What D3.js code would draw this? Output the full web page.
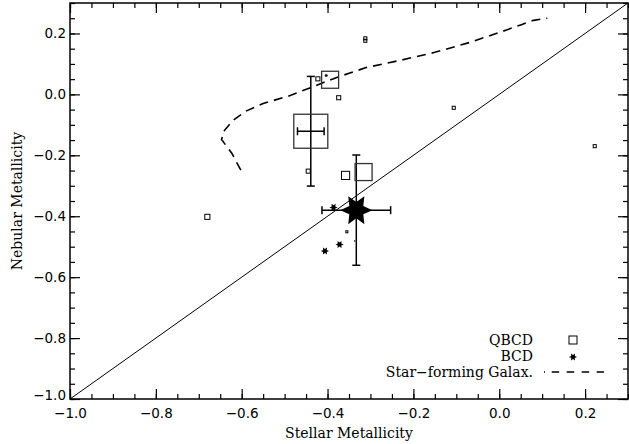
<!DOCTYPE html>
<html>
<head>
<meta charset="utf-8">
<script src="https://cdn.jsdelivr.net/npm/d3@7"></script>
<style>
  body { margin: 0; background: #fff; }
  svg { display: block; }
  .tick text { font-family: "DejaVu Sans", sans-serif; font-size: 13.5px; fill: #000; }
  .ttl { font-family: "DejaVu Serif", serif; font-size: 14px; fill: #000; }
</style>
</head>
<body>
<div id="chart"></div>
<script>
// axis ticks
const xMajor = [-1.0, -0.8, -0.6, -0.4, -0.2, 0.0, 0.2];
const yMajor = [-1.0, -0.8, -0.6, -0.4, -0.2, 0.0, 0.2];
const minorStep = 0.05;

// QBCD points (square size ~ weight)
const qbcdX = [-0.312, -0.312, -0.394, -0.4225, -0.374, -0.439, -0.445, -0.358, -0.316, -0.680, -0.106, 0.2225, -0.355];
const qbcdY = [0.184, 0.176, 0.048, 0.051, -0.011, -0.121, -0.252, -0.266, -0.255, -0.402, -0.044, -0.170, -0.451];
const qbcdW = [0.09, 0.09, 0.5, 0.12, 0.12, 1.0, 0.12, 0.24, 0.5, 0.15, 0.09, 0.09, 0.06];

// BCD points (star size ~ weight)
const bcdX = [-0.386, -0.372, -0.406, -0.337, -0.403, -0.333];
const bcdY = [-0.371, -0.493, -0.514, -0.481, 0.062, -0.380];
const bcdW = [0.24, 0.24, 0.24, 0.06, 0.12, 0.95];

// error bars: [x, y, xerr, yerr]
const errX = [-0.439, -0.333];
const errY = [-0.121, -0.380];
const errDx = [0.031, 0.080];
const errDy = [0.180, 0.181];

// star-forming galaxies relation (dashed)
const sfgX = [-0.602, -0.623, -0.647, -0.640, -0.620, -0.590, -0.550, -0.490, -0.440, -0.380, -0.310, -0.230, -0.150, -0.070, 0.0, 0.05, 0.08, 0.112];
const sfgY = [-0.249, -0.193, -0.148, -0.118, -0.085, -0.055, -0.030, -0.005, 0.022, 0.055, 0.088, 0.112, 0.138, 0.170, 0.203, 0.228, 0.243, 0.250];

const width = 629, height = 444;
const svg = d3.select("#chart").append("svg")
  .attr("width", width).attr("height", height);

const x = d3.scaleLinear().domain([-1, 0.3]).range([70, 628]);
const y = d3.scaleLinear().domain([-1, 0.3]).range([399, 3]);
const sz = d3.scaleLinear().domain([0, 1]).range([0, 34]);

const xMinor = d3.range(0, 27).map(i => -1 + i * minorStep).filter(v => v <= 0.3001);
const yMinor = xMinor;
const fmt = d3.format(".1f");

// minor ticks (all four sides)
svg.append("g").attr("transform", "translate(0,399)")
  .call(d3.axisBottom(x).tickValues(xMinor).tickSize(-5).tickFormat(""));
svg.append("g").attr("transform", "translate(0,3)")
  .call(d3.axisTop(x).tickValues(xMinor).tickSize(-5).tickFormat(""));
svg.append("g").attr("transform", "translate(70,0)")
  .call(d3.axisLeft(y).tickValues(yMinor).tickSize(-5).tickFormat(""));
svg.append("g").attr("transform", "translate(628,0)")
  .call(d3.axisRight(y).tickValues(yMinor).tickSize(-5).tickFormat(""));

// major ticks
svg.append("g").attr("transform", "translate(0,399)")
  .call(d3.axisBottom(x).tickValues(xMajor).tickSize(-10).tickPadding(9).tickFormat(fmt));
svg.append("g").attr("transform", "translate(0,3)")
  .call(d3.axisTop(x).tickValues(xMajor).tickSize(-10).tickFormat(""));
svg.append("g").attr("class", "yax").attr("transform", "translate(70,0)")
  .call(d3.axisLeft(y).tickValues(yMajor).tickSize(-10).tickPadding(4).tickFormat(fmt));
svg.append("g").attr("transform", "translate(628,0)")
  .call(d3.axisRight(y).tickValues(yMajor).tickSize(-10).tickFormat(""));

svg.selectAll(".domain").remove();
svg.selectAll(".tick line").attr("stroke", "#000").attr("stroke-width", 1.2);

// bottom label of y axis sits a bit higher
svg.selectAll(".yax .tick text").filter(d => d === -1.0).attr("dy", "0.0em");

// frame
svg.append("rect")
  .attr("x", x(-1)).attr("y", y(0.3))
  .attr("width", x(0.3) - x(-1)).attr("height", y(-1) - y(0.3))
  .attr("fill", "none").attr("stroke", "#000").attr("stroke-width", 1.5);

// one-to-one line
svg.append("line")
  .attr("x1", x(-1)).attr("y1", y(-1))
  .attr("x2", x(0.3)).attr("y2", y(0.3))
  .attr("stroke", "#000").attr("stroke-width", 1);

// dashed star-forming relation
const sfg = sfgX.map((v, i) => [v, sfgY[i]]);
svg.append("path")
  .datum(sfg)
  .attr("d", d3.line().x(d => x(d[0])).y(d => y(d[1])))
  .attr("fill", "none").attr("stroke", "#000")
  .attr("stroke-width", 1.6).attr("stroke-dasharray", "9,6");

// 6 pointed star
function starPath(R) {
  let r = R * 0.5, pts = [];
  for (let i = 0; i < 12; i++) {
    let a = i * Math.PI / 6;
    let rr = (i % 2 == 0) ? R : r;
    pts.push([rr * Math.cos(a), rr * Math.sin(a)]);
  }
  return "M" + pts.map(p => p[0].toFixed(2) + "," + p[1].toFixed(2)).join("L") + "Z";
}

// error bars
const errs = errX.map((v, i) => ({x: v, y: errY[i], dx: errDx[i], dy: errDy[i]}));
const eb = svg.append("g").attr("stroke", "#000").attr("stroke-width", 1.5);
errs.forEach(function(d) {
  eb.append("line").attr("x1", x(d.x - d.dx)).attr("x2", x(d.x + d.dx))
    .attr("y1", y(d.y)).attr("y2", y(d.y));
  eb.append("line").attr("x1", x(d.x)).attr("x2", x(d.x))
    .attr("y1", y(d.y - d.dy)).attr("y2", y(d.y + d.dy));
  [d.x - d.dx, d.x + d.dx].forEach(v => eb.append("line")
    .attr("x1", x(v)).attr("x2", x(v)).attr("y1", y(d.y) - 4).attr("y2", y(d.y) + 4));
  [d.y - d.dy, d.y + d.dy].forEach(v => eb.append("line")
    .attr("x1", x(d.x) - 4).attr("x2", x(d.x) + 4).attr("y1", y(v)).attr("y2", y(v)));
});

// QBCD squares
const qbcd = qbcdX.map((v, i) => ({x: v, y: qbcdY[i], w: qbcdW[i]}));
svg.append("g").selectAll("rect")
  .data(qbcd).enter().append("rect")
  .attr("x", d => x(d.x) - sz(d.w) / 2)
  .attr("y", d => y(d.y) - sz(d.w) / 2)
  .attr("width", d => sz(d.w))
  .attr("height", d => sz(d.w))
  .attr("fill", "none")
  .attr("stroke", d => d.w > 0.3 ? "#333" : "#000")
  .attr("stroke-width", d => d.w > 0.3 ? 1.3 : 1);

// BCD stars
const bcd = bcdX.map((v, i) => ({x: v, y: bcdY[i], w: bcdW[i]}));
svg.append("g").selectAll("path")
  .data(bcd).enter().append("path")
  .attr("transform", d => "translate(" + x(d.x) + "," + y(d.y) + ")")
  .attr("d", d => starPath(sz(d.w) / 2))
  .attr("fill", "#000");

// legend
const lg = svg.append("g");
lg.append("text").attr("class", "ttl").attr("x", 533).attr("y", 340)
  .attr("dy", "0.35em").attr("text-anchor", "end").text("QBCD");
lg.append("rect").attr("x", 569).attr("y", 336).attr("width", 8).attr("height", 8)
  .attr("fill", "none").attr("stroke", "#000").attr("stroke-width", 1);
lg.append("text").attr("class", "ttl").attr("x", 533).attr("y", 356)
  .attr("dy", "0.35em").attr("text-anchor", "end").text("BCD");
lg.append("path").attr("transform", "translate(573,357)").attr("d", starPath(4)).attr("fill", "#000");
lg.append("text").attr("class", "ttl").attr("x", 533).attr("y", 372)
  .attr("dy", "0.35em").attr("text-anchor", "end").text("Star\u2212forming Galax.");
lg.append("line").attr("x1", 544).attr("x2", 604).attr("y1", 372).attr("y2", 372)
  .attr("stroke", "#000").attr("stroke-width", 1.5)
  .attr("stroke-dasharray", "1,6.7,7.5,7.5,7.5,7.5,7.5,7.5,7.5");

// axis titles
svg.append("text").attr("class", "ttl").attr("x", 349).attr("y", 433)
  .attr("dy", "0.35em").attr("text-anchor", "middle").text("Stellar Metallicity");
svg.append("text").attr("class", "ttl")
  .attr("transform", "translate(17,201) rotate(-90)")
  .attr("dy", "0.35em").attr("text-anchor", "middle").text("Nebular Metallicity");
</script>
</body>
</html>
